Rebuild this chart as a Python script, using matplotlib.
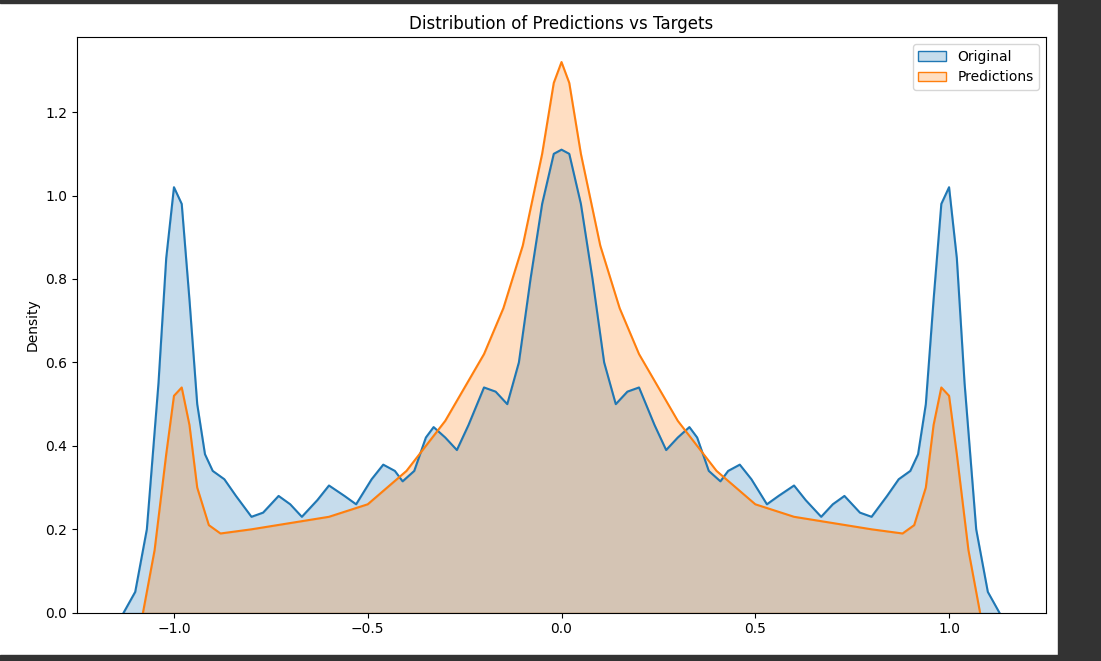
import matplotlib.pyplot as plt
from matplotlib.patches import Rectangle

# density curves (x, density)
orig_x = [-1.13, -1.10, -1.07, -1.04, -1.02, -1.00, -0.98, -0.96, -0.94, -0.92, -0.90, -0.87, -0.84,
          -0.80, -0.77, -0.73, -0.70, -0.67, -0.63, -0.60, -0.56, -0.53, -0.49, -0.46, -0.43, -0.41,
          -0.38, -0.35, -0.33, -0.30, -0.27, -0.24, -0.20, -0.17, -0.14, -0.11, -0.08, -0.05, -0.02,
          0.00,
          0.02, 0.05, 0.08, 0.11, 0.14, 0.17, 0.20, 0.24, 0.27, 0.30, 0.33, 0.35, 0.38, 0.41, 0.43,
          0.46, 0.49, 0.53, 0.56, 0.60, 0.63, 0.67, 0.70, 0.73, 0.77, 0.80, 0.84, 0.87, 0.90, 0.92,
          0.94, 0.96, 0.98, 1.00, 1.02, 1.04, 1.07, 1.10, 1.13]
orig_y = [0.00, 0.05, 0.20, 0.55, 0.85, 1.02, 0.98, 0.75, 0.50, 0.38, 0.34, 0.32, 0.28,
          0.23, 0.24, 0.28, 0.26, 0.23, 0.27, 0.305, 0.28, 0.26, 0.32, 0.355, 0.34, 0.315,
          0.34, 0.42, 0.445, 0.42, 0.39, 0.45, 0.54, 0.53, 0.50, 0.60, 0.80, 0.98, 1.10,
          1.11,
          1.10, 0.98, 0.80, 0.60, 0.50, 0.53, 0.54, 0.45, 0.39, 0.42, 0.445, 0.42, 0.34, 0.315, 0.34,
          0.355, 0.32, 0.26, 0.28, 0.305, 0.27, 0.23, 0.26, 0.28, 0.24, 0.23, 0.28, 0.32, 0.34, 0.38,
          0.50, 0.75, 0.98, 1.02, 0.85, 0.55, 0.20, 0.05, 0.00]

pred_x = [-1.08, -1.05, -1.02, -1.00, -0.98, -0.96, -0.94, -0.91, -0.88, -0.80, -0.70, -0.60,
          -0.50, -0.40, -0.30, -0.20, -0.15, -0.10, -0.05, -0.02, 0.00,
          0.02, 0.05, 0.10, 0.15, 0.20, 0.30, 0.40, 0.50, 0.60, 0.70, 0.80, 0.88, 0.91, 0.94,
          0.96, 0.98, 1.00, 1.02, 1.05, 1.08]
pred_y = [0.00, 0.15, 0.38, 0.52, 0.54, 0.45, 0.30, 0.21, 0.19, 0.20, 0.215, 0.23,
          0.26, 0.34, 0.46, 0.62, 0.73, 0.88, 1.10, 1.27, 1.32,
          1.27, 1.10, 0.88, 0.73, 0.62, 0.46, 0.34, 0.26, 0.23, 0.215, 0.20, 0.19, 0.21, 0.30,
          0.45, 0.54, 0.52, 0.38, 0.15, 0.00]

fig = plt.figure(figsize=(11.01, 6.61), dpi=100)
ax = fig.add_axes([0.070, 0.073, 0.880, 0.871])

ax.fill_between(orig_x, orig_y, color="C0", alpha=0.25, label="Original")
ax.plot(orig_x, orig_y, color="C0")
ax.fill_between(pred_x, pred_y, color="C1", alpha=0.25, label="Predictions")
ax.plot(pred_x, pred_y, color="C1")

# legend handles like seaborn: filled patch with coloured edge
h1 = Rectangle((0, 0), 1, 1, facecolor=(0.12, 0.47, 0.71, 0.25), edgecolor="C0")
h2 = Rectangle((0, 0), 1, 1, facecolor=(1.0, 0.5, 0.05, 0.25), edgecolor="C1")
ax.legend([h1, h2], ["Original", "Predictions"], loc="upper right")

ax.set_xlim(-1.25, 1.25)
ax.set_ylim(0, 1.38)
ax.set_xticks([-1.0, -0.5, 0.0, 0.5, 1.0])
ax.set_ylabel("Density")
ax.set_title("Distribution of Predictions vs Targets")

# dark screenshot borders
fig.patches.append(Rectangle((1058 / 1101, 0), 1, 1, transform=fig.transFigure, color="#333333"))
fig.patches.append(Rectangle((0, 0), 1, 6 / 661, transform=fig.transFigure, color="#333333"))
fig.patches.append(Rectangle((0, 1 - 3 / 661), 1, 1, transform=fig.transFigure, color="#333333"))

fig.savefig("out.png", dpi=100)
